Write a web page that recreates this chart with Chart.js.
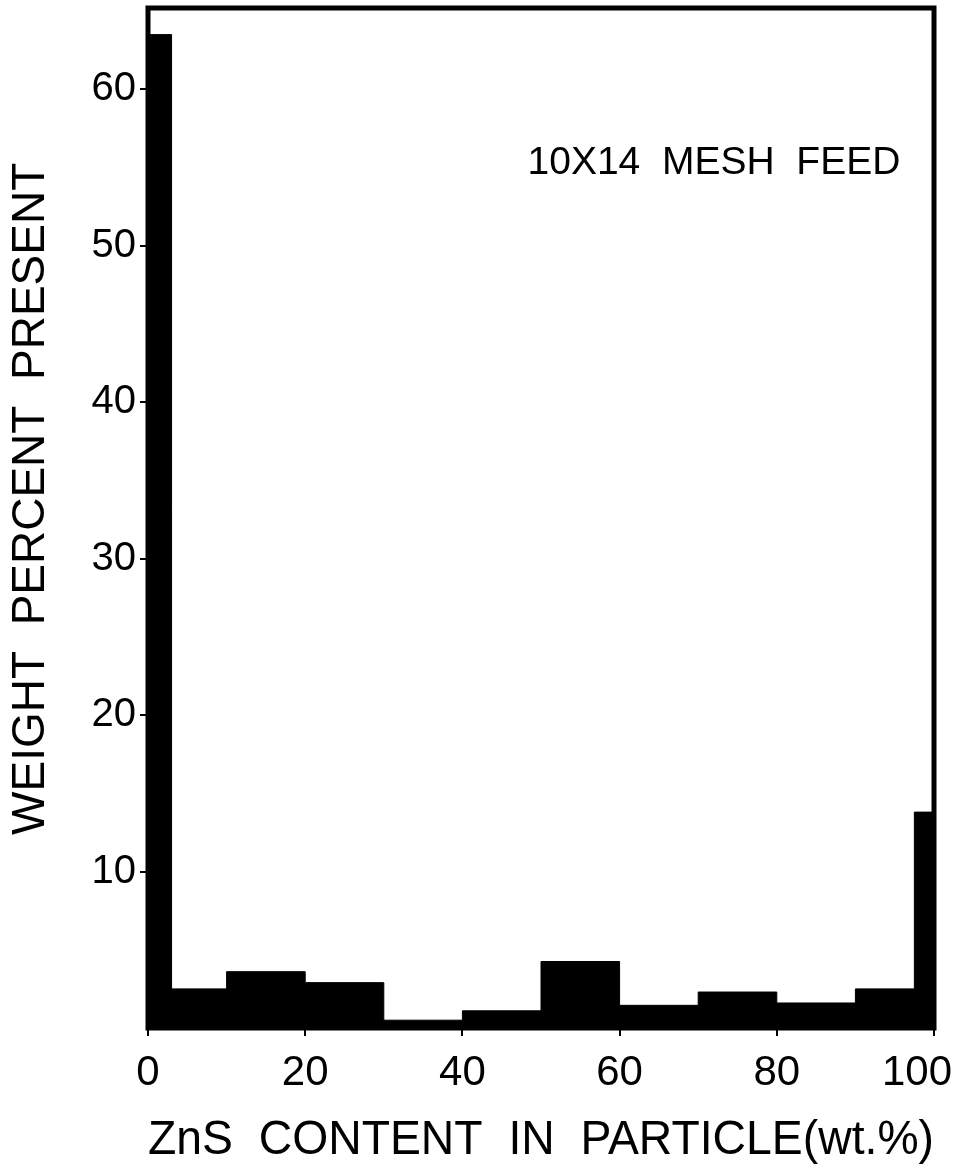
<!DOCTYPE html>
<html>
<head>
<meta charset="utf-8">
<script src="https://cdn.jsdelivr.net/npm/chart.js@4"></script>
<style>
	html, body { margin: 0; padding: 0; background: #fff; }
	canvas { display: block; }
</style>
</head>
<body>
<canvas id="myChart" width="960" height="1176"></canvas>
<script>
// bin edges along ZnS content (wt.%) and weight percent in each bin
var binEdges = [0, 3, 10, 20, 30, 40, 50, 60, 70, 80, 90, 97.5, 100];
var binValues = [63.5, 2.5, 3.6, 2.9, 0.5, 1.1, 4.25, 1.45, 2.3, 1.6, 2.5, 13.8];
var xTicks = [0, 20, 40, 60, 80, 100];
var yTicks = [10, 20, 30, 40, 50, 60];
var noteText = '10X14  MESH  FEED';

var FONT = '"Liberation Sans", Arial, sans-serif';

//+++++++++++++++++++++++ Start:histogram points +++++++++++++++++++++++
// each point holds its value until the next edge (stepped line)
var points = binEdges.map(function (x, i) {
	var v = i < binValues.length ? binValues[i] : binValues[binValues.length - 1];
	return { x: x, y: v };
});
//-------------------- End:histogram points --------------------

function noPad(scale) {
	scale.paddingTop = 0;
	scale.paddingBottom = 0;
	scale.paddingLeft = 0;
	scale.paddingRight = 0;
}

var framePlugin = {
	id: 'frame',
	beforeDraw: function (chart) {
		// keep the last x label ("100") inside the canvas
		var xs = chart.scales.x;
		var items = xs.getLabelItems(chart.chartArea);
		var last = items[items.length - 1];
		if (last && last.options.textAlign !== 'right') {
			last.options.textAlign = 'right';
			last.options.translation[0] += 18;
		}
	},
	afterDatasetsDraw: function (chart) {
		var a = chart.chartArea, ctx = chart.ctx;
		ctx.save();
		ctx.strokeStyle = '#000';
		ctx.lineWidth = 5;
		ctx.strokeRect(a.left, a.top, a.right - a.left, a.bottom - a.top);
		// label in the upper right
		ctx.fillStyle = '#000';
		ctx.font = '39px ' + FONT;
		ctx.textAlign = 'center';
		ctx.textBaseline = 'alphabetic';
		ctx.fillText(noteText, chart.scales.x.getPixelForValue(72.0), chart.scales.y.getPixelForValue(54.6));
		ctx.restore();
	}
};

var ctx = document.getElementById('myChart').getContext('2d');
var chart = new Chart(ctx, {
	type: 'line',
	data: {
		datasets: [{
			data: points,
			stepped: true,
			fill: 'origin',
			backgroundColor: '#000',
			borderColor: '#000',
			borderWidth: 1,
			pointRadius: 0
		}]
	},
	options: {
		responsive: false,
		animation: false,
		devicePixelRatio: 1,
		layout: { padding: { top: 8, right: 26, left: 0, bottom: 0 } },
		plugins: {
			legend: { display: false },
			tooltip: { enabled: false }
		},
		scales: {
			x: {
				type: 'linear',
				min: 0,
				max: 100,
				afterBuildTicks: function (scale) {
					scale.ticks = xTicks.map(function (v) { return { value: v }; });
				},
				afterFit: function (scale) { scale.height = 148; noPad(scale); },
				ticks: { color: '#000', font: { family: FONT, size: 42 }, padding: 12, maxRotation: 0 },
				grid: { display: true, drawOnChartArea: false, color: '#000', lineWidth: 2, tickLength: 8 },
				border: { display: false },
				title: {
					display: true,
					text: 'ZnS  CONTENT  IN  PARTICLE(wt.%)',
					color: '#000',
					font: { family: FONT, size: 48 },
					padding: { top: 12, bottom: 6 }
				}
			},
			y: {
				min: 0,
				max: 65.2,
				afterBuildTicks: function (scale) {
					scale.ticks = yTicks.map(function (v) { return { value: v }; });
				},
				afterFit: function (scale) { scale.width = 148; noPad(scale); },
				ticks: { color: '#000', font: { family: FONT, size: 40 }, padding: 4 },
				grid: { display: true, drawOnChartArea: false, color: '#000', lineWidth: 2, tickLength: 8 },
				border: { display: false },
				title: {
					display: true,
					text: '   WEIGHT  PERCENT  PRESENT',
					color: '#000',
					font: { family: FONT, size: 46 },
					padding: { top: 4, bottom: 4 }
				}
			}
		}
	},
	plugins: [framePlugin]
});
</script>
</body>
</html>
